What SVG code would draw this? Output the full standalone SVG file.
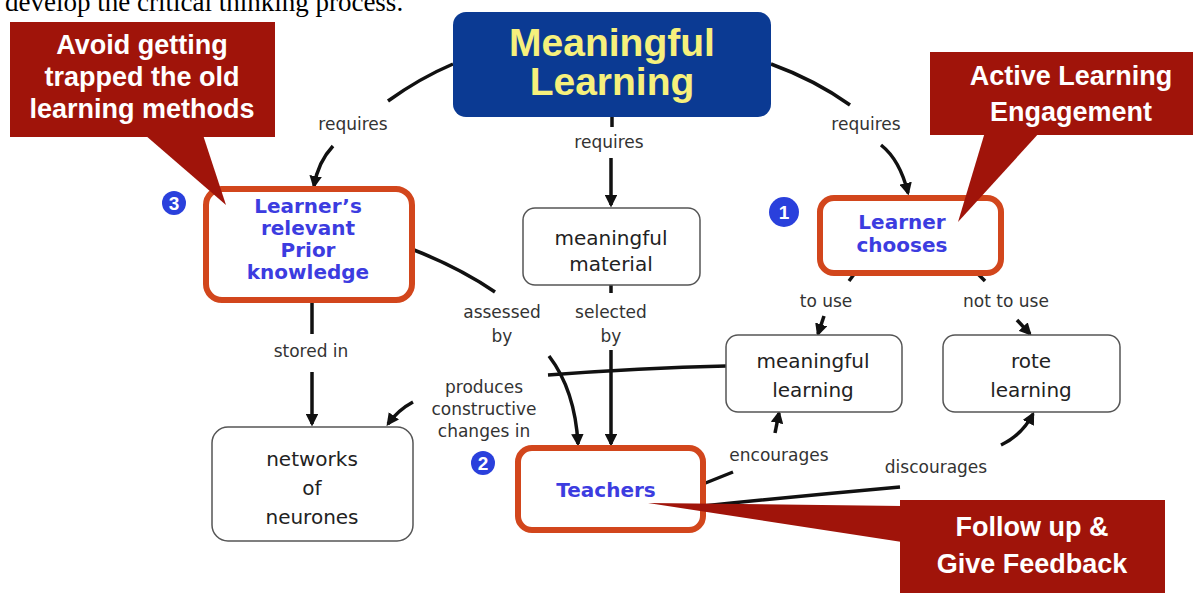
<svg xmlns="http://www.w3.org/2000/svg" width="1193" height="593" viewBox="0 0 1193 593">
<style>
.bg{fill:#ffffff}
.callout{fill:#a0140a}
.ct{font-family:"Liberation Sans",Arial,sans-serif;font-weight:bold;font-size:27px;fill:#ffffff;text-anchor:middle}
.hl{fill:#ffffff;stroke:#d2461c;stroke-width:6}
.plain{fill:#ffffff;stroke:#555555;stroke-width:1.5}
.bt{font-family:"DejaVu Sans",Verdana,sans-serif;font-weight:bold;font-size:20px;fill:#3c3ce0;text-anchor:middle}
.nt{font-family:"DejaVu Sans",Verdana,sans-serif;font-size:20px;fill:#222222;text-anchor:middle}
.lb{font-family:"DejaVu Sans",Verdana,sans-serif;font-size:17px;fill:#333333;text-anchor:middle}
.edge{fill:none;stroke:#111111;stroke-width:3.5}
.num{fill:#2a40dc}
.numt{font-family:"Liberation Sans",Arial,sans-serif;font-weight:bold;font-size:19px;fill:#ffffff;text-anchor:middle}
</style>
<defs>
<marker id="ah" viewBox="0 0 10 10" refX="8" refY="5" markerWidth="3.6" markerHeight="3.6" orient="auto" markerUnits="strokeWidth"><path d="M0,0 L10,5 L0,10 z" fill="#111111"/></marker>
</defs>
<rect class="bg" x="0" y="0" width="1193" height="593"/>
<text x="5" y="11" font-family="'Liberation Serif','Times New Roman',serif" font-size="27" fill="#000000">develop the critical thinking process.</text>

<g id="connectors">
<path class="edge" d="M453,64 Q420,78 388,101"/>
<path class="edge" marker-end="url(#ah)" d="M333,146 Q318,162 314,186"/>
<path class="edge" d="M612,117 L612,127"/>
<path class="edge" marker-end="url(#ah)" d="M611,158 L611,205"/>
<path class="edge" d="M771,64 Q815,80 850,105"/>
<path class="edge" marker-end="url(#ah)" d="M881,145 Q900,160 908,193"/>
<path class="edge" d="M414,250 Q460,268 495,292"/>
<path class="edge" marker-end="url(#ah)" d="M549,356 Q575,390 578,444"/>
<path class="edge" d="M611,285 L611,293"/>
<path class="edge" marker-end="url(#ah)" d="M611,350 L611,444"/>
<path class="edge" d="M312,303 L312,334"/>
<path class="edge" marker-end="url(#ah)" d="M312,372 L312,424"/>
<path class="edge" d="M726,366 Q640,368 548,375"/>
<path class="edge" marker-end="url(#ah)" d="M413,402 Q398,410 388,424"/>
<path class="edge" d="M855,273 L849,281"/>
<path class="edge" marker-end="url(#ah)" d="M824,316 L818,334"/>
<path class="edge" d="M977,273 L985,281"/>
<path class="edge" marker-end="url(#ah)" d="M1017,320 L1030,334"/>
<path class="edge" d="M703,484 L733,472"/>
<path class="edge" marker-end="url(#ah)" d="M775,433 L779,413"/>
<path class="edge" d="M703,506 Q800,496 900,487"/>
<path class="edge" marker-end="url(#ah)" d="M1001,445 Q1022,435 1033,414"/>
</g>

<g id="edge-labels">
<text class="lb" x="353" y="130">requires</text>
<text class="lb" x="609" y="148">requires</text>
<text class="lb" x="866" y="130">requires</text>
<text class="lb" x="502" y="318">assessed</text>
<text class="lb" x="502" y="342">by</text>
<text class="lb" x="611" y="318">selected</text>
<text class="lb" x="611" y="342">by</text>
<text class="lb" x="311" y="357">stored in</text>
<text class="lb" x="484" y="393">produces</text>
<text class="lb" x="484" y="415">constructive</text>
<text class="lb" x="484" y="437">changes in</text>
<text class="lb" x="826" y="307">to use</text>
<text class="lb" x="1006" y="307">not to use</text>
<text class="lb" x="779" y="461">encourages</text>
<text class="lb" x="936" y="473">discourages</text>
</g>

<g id="node-meaningful-learning">
<rect x="453" y="12" width="318" height="105" rx="13" fill="#0b3a93"/>
<text x="612" y="56" font-family="'Liberation Sans',Arial,sans-serif" font-weight="bold" font-size="39" fill="#f6f07c" text-anchor="middle">Meaningful</text>
<text x="612" y="95" font-family="'Liberation Sans',Arial,sans-serif" font-weight="bold" font-size="39" fill="#f6f07c" text-anchor="middle">Learning</text>
</g>

<g id="node-prior-knowledge">
<rect class="hl" x="206" y="189" width="206" height="111" rx="16"/>
<text class="bt" x="308" y="213" font-size="17.5">Learner’s</text>
<text class="bt" x="308" y="235" font-size="17.5">relevant</text>
<text class="bt" x="308" y="257" font-size="17.5">Prior</text>
<text class="bt" x="308" y="279" font-size="17.5">knowledge</text>
</g>

<g id="node-meaningful-material">
<rect class="plain" x="523" y="208" width="177" height="77" rx="12"/>
<text class="nt" x="611" y="245">meaningful</text>
<text class="nt" x="611" y="271">material</text>
</g>

<g id="node-learner-chooses">
<rect class="hl" x="820" y="198" width="181" height="75" rx="14"/>
<text class="bt" x="902" y="229" font-size="21">Learner</text>
<text class="bt" x="902" y="252" font-size="21">chooses</text>
</g>

<g id="node-meaningful-learning-small">
<rect class="plain" x="726" y="335" width="176" height="77" rx="12"/>
<text class="nt" x="813" y="368">meaningful</text>
<text class="nt" x="813" y="397">learning</text>
</g>

<g id="node-rote-learning">
<rect class="plain" x="943" y="335" width="177" height="77" rx="12"/>
<text class="nt" x="1031" y="368">rote</text>
<text class="nt" x="1031" y="397">learning</text>
</g>

<g id="node-networks">
<rect class="plain" x="212" y="427" width="201" height="114" rx="16"/>
<text class="nt" x="312" y="466">networks</text>
<text class="nt" x="312" y="495">of</text>
<text class="nt" x="312" y="524">neurones</text>
</g>

<g id="node-teachers">
<rect class="hl" x="518" y="448" width="185" height="82" rx="14"/>
<text class="bt" x="606" y="497" font-size="23">Teachers</text>
</g>

<g id="badge-1">
<circle class="num" cx="784" cy="212" r="15"/>
<text class="numt" x="784" y="219">1</text>
</g>
<g id="badge-2">
<circle class="num" cx="483" cy="463" r="12"/>
<text class="numt" x="483" y="470" font-size="17">2</text>
</g>
<g id="badge-3">
<circle class="num" cx="174" cy="203" r="12"/>
<text class="numt" x="174" y="210" font-size="17">3</text>
</g>

<g id="callout-avoid">
<polygon class="callout" points="145,135 203,135 226,205"/>
<rect class="callout" x="10" y="22" width="265" height="115"/>
<text class="ct" x="142" y="54">Avoid getting</text>
<text class="ct" x="142" y="86">trapped the old</text>
<text class="ct" x="142" y="118">learning methods</text>
</g>

<g id="callout-active">
<polygon class="callout" points="985,132 1040,132 958,222"/>
<rect class="callout" x="930" y="52" width="263" height="83"/>
<text class="ct" x="1071" y="85" font-size="29">Active Learning</text>
<text class="ct" x="1071" y="121" font-size="29">Engagement</text>
</g>

<g id="callout-feedback">
<polygon class="callout" points="648,503 902,506 902,542"/>
<rect class="callout" x="900" y="500" width="265" height="93"/>
<text class="ct" x="1032" y="536" font-size="30">Follow up &amp;</text>
<text class="ct" x="1032" y="573" font-size="30">Give Feedback</text>
</g>
</svg>
